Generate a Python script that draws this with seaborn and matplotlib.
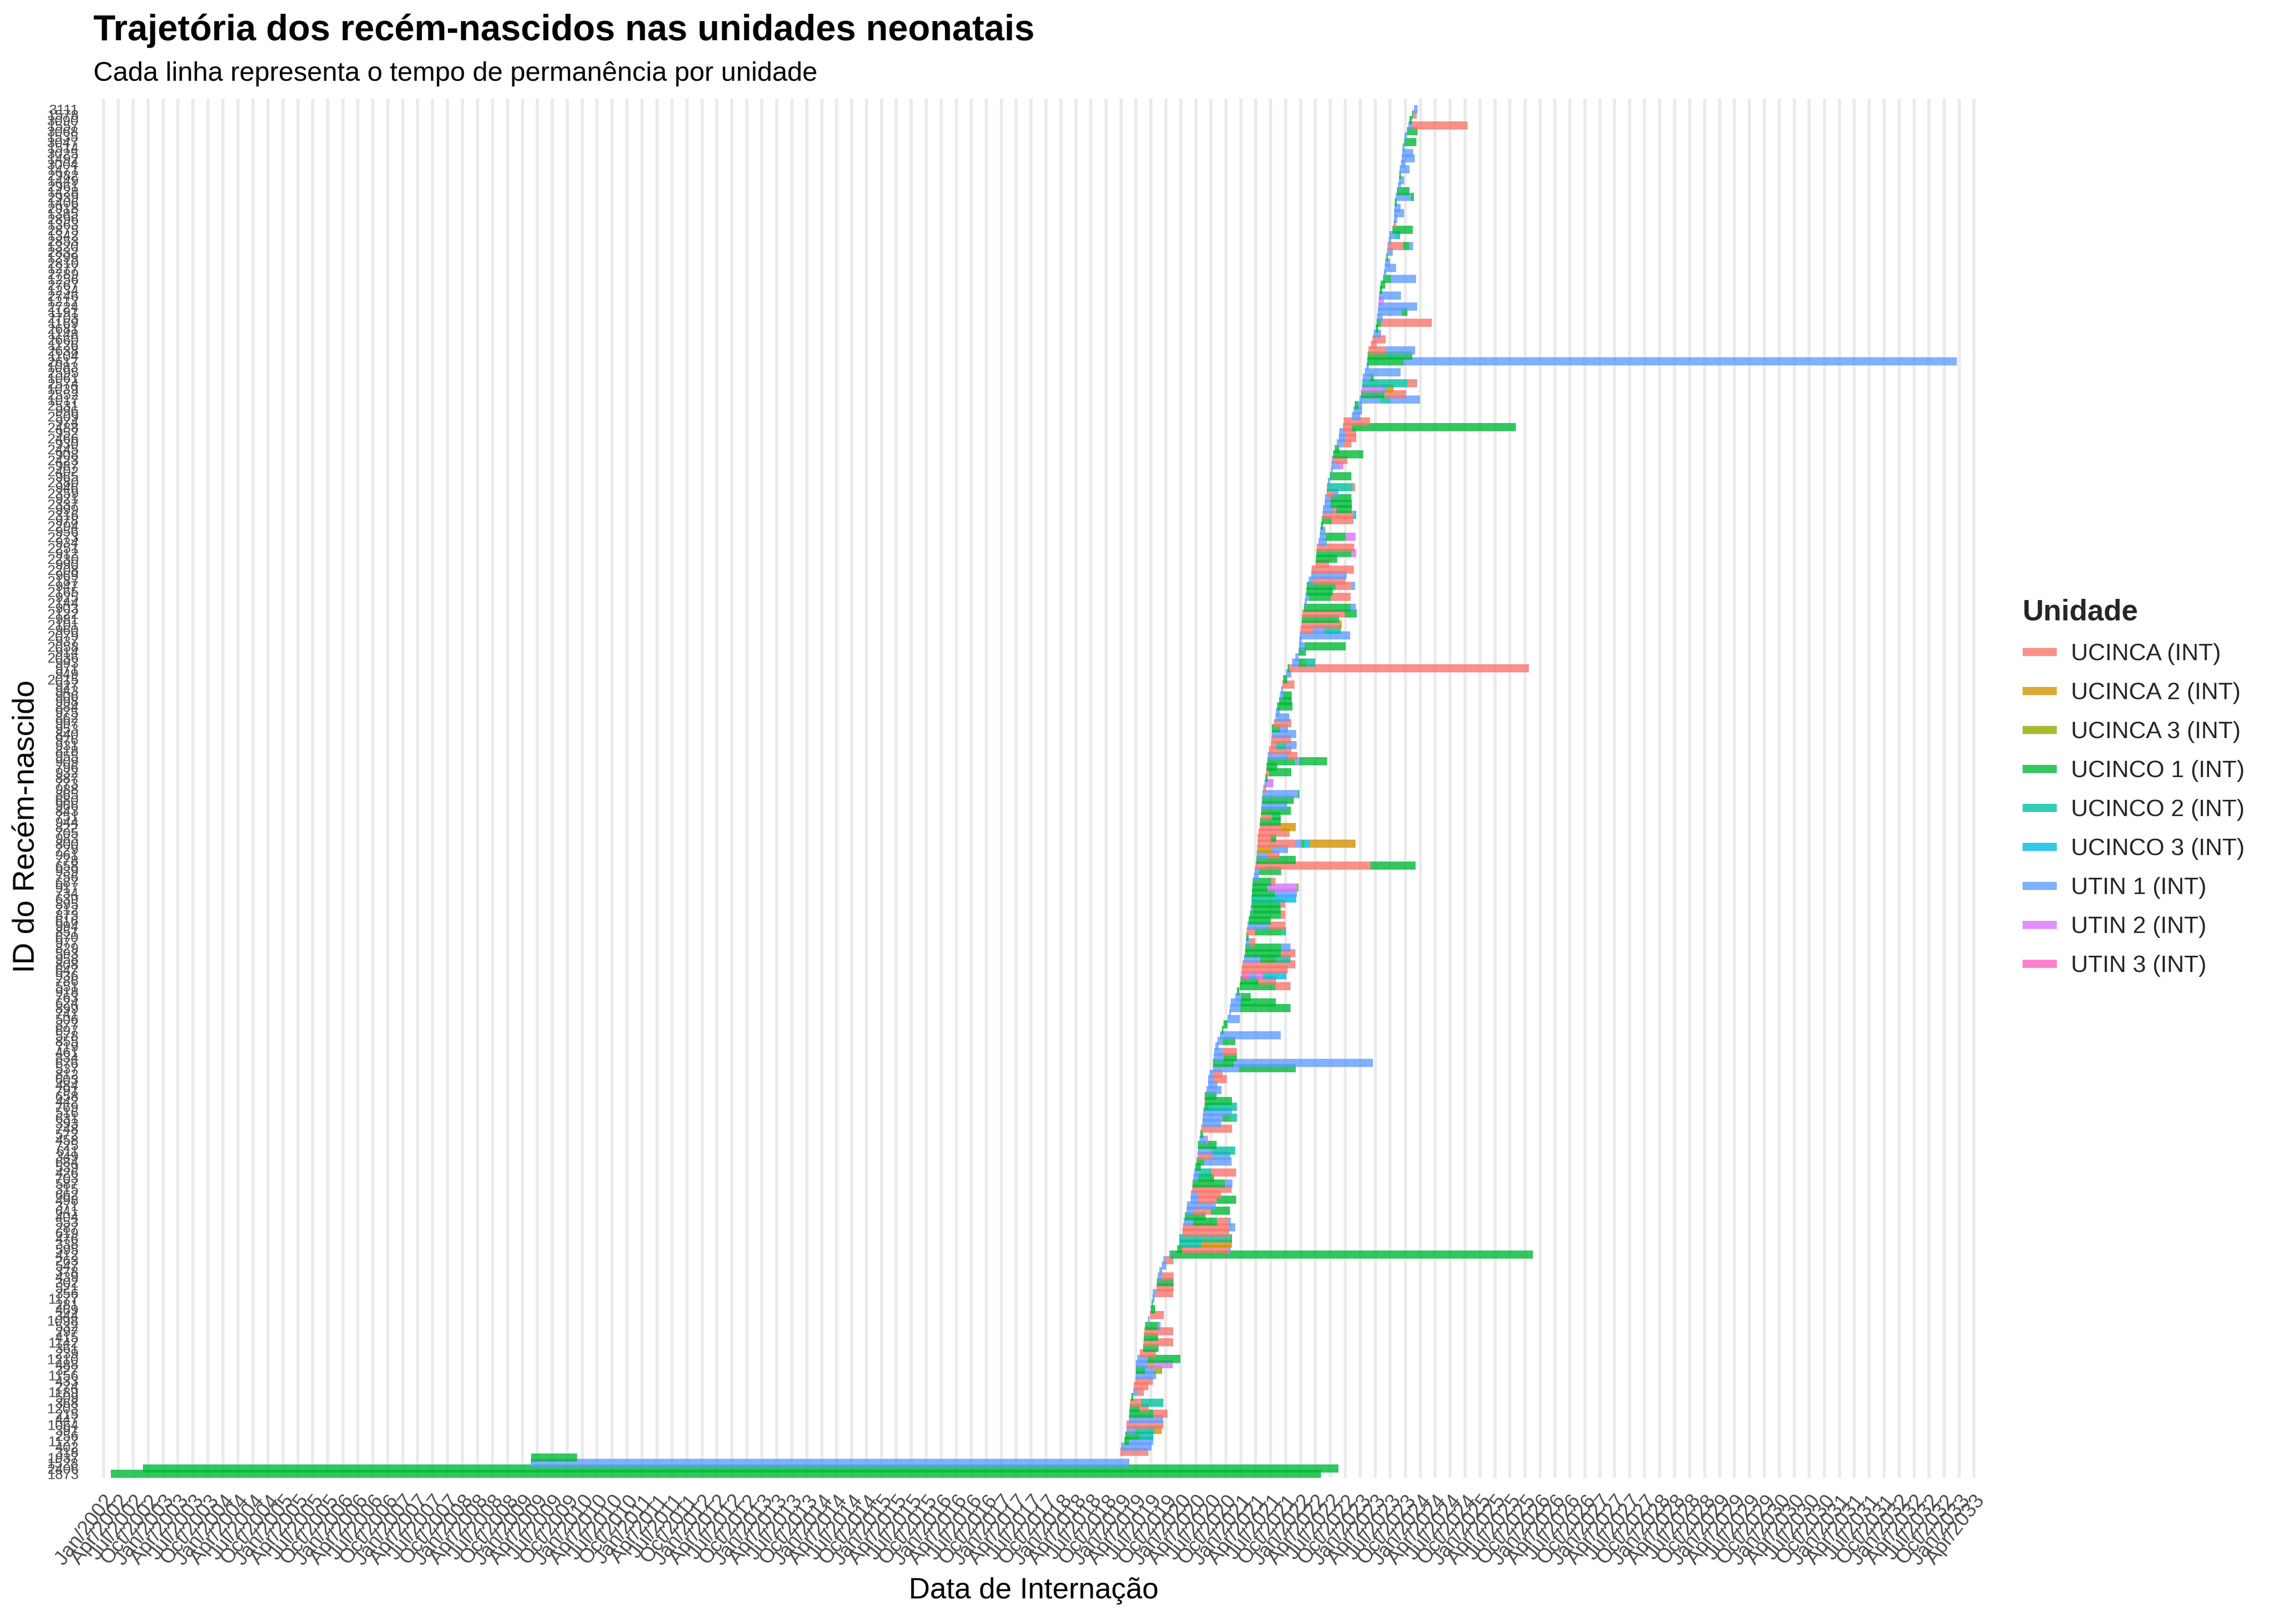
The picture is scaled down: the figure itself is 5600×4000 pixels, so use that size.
import numpy as np
import pandas as pd
import matplotlib
matplotlib.use("Agg")
import matplotlib.pyplot as plt
import matplotlib.dates as mdates
from matplotlib.lines import Line2D
import seaborn as sns

# ---------------- data ----------------
unit_names = ["UCINCA (INT)", "UCINCA 2 (INT)", "UCINCA 3 (INT)", "UCINCO 1 (INT)",
              "UCINCO 2 (INT)", "UCINCO 3 (INT)", "UTIN 1 (INT)", "UTIN 2 (INT)", "UTIN 3 (INT)"]
unit_codes = ["A", "A2", "A3", "O1", "O2", "O3", "T1", "T2", "T3"]
unit_colors = ["#F8766D", "#D39200", "#93AA00", "#00BA38", "#00C19F",
               "#00B9E3", "#619CFF", "#DB72FB", "#FF61C3"]

patient_ids = [
    1873, 2406, 1528, 1937, 318, 402, 1127, 256, 391, 1064,
    447, 215, 1203, 368, 509, 1189, 274, 433, 1156, 327,
    488, 1210, 239, 361, 1142, 415, 297, 532, 1098, 344,
    469, 281, 1177, 356, 521, 302, 439, 378, 547, 263,
    412, 595, 338, 476, 619, 287, 553, 404, 641, 371,
    498, 662, 315, 587, 703, 426, 539, 684, 349, 611,
    725, 458, 572, 748, 393, 631, 516, 769, 442, 658,
    791, 484, 603, 812, 537, 676, 834, 461, 719, 855,
    578, 697, 877, 506, 741, 899, 624, 763, 918, 551,
    786, 936, 647, 808, 958, 593, 829, 977, 670, 851,
    994, 616, 873, 712, 895, 639, 734, 917, 687, 756,
    939, 658, 778, 961, 729, 800, 983, 705, 822, 944,
    751, 843, 966, 680, 865, 988, 773, 887, 932, 796,
    909, 955, 818, 931, 976, 840, 953, 997, 862, 975,
    884, 998, 906, 943, 927, 2015, 949, 971, 993, 2036,
    914, 2058, 937, 2079, 960, 2101, 981, 2122, 903, 2144,
    925, 2165, 947, 2187, 969, 2208, 990, 2230, 912, 2251,
    934, 2273, 956, 2294, 978, 2316, 999, 2337, 921, 2359,
    946, 2380, 965, 2402, 987, 2423, 908, 2445, 930, 2466,
    952, 2488, 974, 2509, 996, 2531, 1017, 2552, 1039, 2574,
    1061, 2595, 1083, 2617, 1104, 2638, 1126, 2660, 1148, 2681,
    1169, 2703, 1191, 2724, 1212, 2746, 1234, 2767, 1256, 2789,
    1277, 2810, 1299, 2832, 1320, 2853, 1342, 2875, 1363, 2896,
    1385, 2918, 1406, 2939, 1428, 2961, 1449, 2982, 1471, 3004,
    1492, 3025, 1514, 3047, 1535, 3068, 1557, 3090, 1578, 3111,
]

admission_dates = [
    "2002-02-15", "2002-08-30", "2009-02-20", "2009-02-22", "2018-12-28", "2019-01-02", "2019-01-22", "2019-01-27", "2019-02-03", "2019-02-04",
    "2019-02-18", "2019-02-21", "2019-02-23", "2019-02-26", "2019-03-05", "2019-03-17", "2019-03-20", "2019-03-30", "2019-03-31", "2019-04-01",
    "2019-04-02", "2019-04-11", "2019-04-26", "2019-05-16", "2019-05-17", "2019-05-21", "2019-05-23", "2019-05-28", "2019-06-14", "2019-06-27",
    "2019-07-02", "2019-07-07", "2019-07-12", "2019-07-14", "2019-08-06", "2019-08-08", "2019-08-13", "2019-08-23", "2019-09-07", "2019-09-17",
    "2019-10-21", "2019-12-10", "2019-12-22", "2019-12-23", "2020-01-11", "2020-01-14", "2020-01-19", "2020-01-26", "2020-02-05", "2020-02-06",
    "2020-03-01", "2020-03-03", "2020-03-10", "2020-03-13", "2020-03-18", "2020-03-23", "2020-03-30", "2020-04-07", "2020-04-12", "2020-04-13",
    "2020-04-15", "2020-04-23", "2020-04-28", "2020-05-03", "2020-05-10", "2020-05-13", "2020-05-15", "2020-05-23", "2020-05-24", "2020-05-25",
    "2020-06-04", "2020-06-14", "2020-06-16", "2020-06-24", "2020-07-14", "2020-07-15", "2020-07-19", "2020-07-21", "2020-07-29", "2020-08-12",
    "2020-08-25", "2020-09-06", "2020-09-18", "2020-10-13", "2020-10-21", "2020-10-26", "2020-10-31", "2020-11-27", "2020-12-08", "2020-12-26",
    "2020-12-31", "2021-01-05", "2021-01-07", "2021-01-12", "2021-01-19", "2021-01-27", "2021-01-28", "2021-02-01", "2021-02-03", "2021-02-06",
    "2021-02-11", "2021-02-18", "2021-02-26", "2021-03-02", "2021-03-07", "2021-03-08", "2021-03-10", "2021-03-12", "2021-03-15", "2021-03-22",
    "2021-03-27", "2021-04-01", "2021-04-06", "2021-04-09", "2021-04-11", "2021-04-12", "2021-04-14", "2021-04-19", "2021-04-26", "2021-04-29",
    "2021-05-04", "2021-05-06", "2021-05-09", "2021-05-11", "2021-05-14", "2021-05-19", "2021-05-26", "2021-05-31", "2021-06-05", "2021-06-07",
    "2021-06-12", "2021-06-13", "2021-06-22", "2021-07-04", "2021-07-07", "2021-07-08", "2021-07-09", "2021-07-22", "2021-08-01", "2021-08-03",
    "2021-08-10", "2021-08-23", "2021-08-28", "2021-09-04", "2021-09-12", "2021-09-17", "2021-10-04", "2021-10-14", "2021-11-10", "2021-11-30",
    "2021-12-20", "2021-12-21", "2021-12-25", "2021-12-27", "2022-01-01", "2022-01-06", "2022-01-09", "2022-01-11", "2022-01-21", "2022-01-26",
    "2022-01-31", "2022-02-05", "2022-02-08", "2022-02-20", "2022-03-07", "2022-03-09", "2022-04-03", "2022-04-06", "2022-04-08", "2022-04-11",
    "2022-04-21", "2022-04-28", "2022-04-29", "2022-05-05", "2022-05-10", "2022-05-15", "2022-05-16", "2022-05-28", "2022-05-30", "2022-06-09",
    "2022-06-12", "2022-06-17", "2022-06-29", "2022-07-06", "2022-07-07", "2022-07-11", "2022-07-19", "2022-07-29", "2022-08-10", "2022-08-22",
    "2022-08-25", "2022-09-16", "2022-09-21", "2022-11-10", "2022-11-19", "2022-11-27", "2022-12-27", "2023-01-06", "2023-01-11", "2023-01-13",
    "2023-01-16", "2023-01-28", "2023-02-05", "2023-02-12", "2023-02-14", "2023-02-19", "2023-03-06", "2023-03-16", "2023-03-23", "2023-04-05",
    "2023-04-10", "2023-04-12", "2023-04-17", "2023-04-20", "2023-04-22", "2023-04-25", "2023-04-30", "2023-05-05", "2023-05-19", "2023-05-24",
    "2023-05-29", "2023-06-01", "2023-06-08", "2023-06-13", "2023-06-16", "2023-06-23", "2023-06-26", "2023-07-15", "2023-07-23", "2023-07-24",
    "2023-07-25", "2023-07-28", "2023-07-30", "2023-08-04", "2023-08-12", "2023-08-19", "2023-08-24", "2023-08-27", "2023-08-29", "2023-09-06",
    "2023-09-10", "2023-09-11", "2023-09-15", "2023-09-25", "2023-09-28", "2023-10-12", "2023-10-20", "2023-10-27", "2023-11-11", "2023-11-24",
]

# successive unit stays per newborn: "unit:days"
unit_stays = [
    "O1:7384", "O1:7295", "T1:3652", "O1:281", "A:171", "T1:186", "O1:27 T1:149", "O1:82 O2:89", "T1:55 O2:116 A2:45", "A:225",
    "T1:208", "O1:146 A:87", "O1:59 A:57", "A:67 O2:136", "O1:12", "T1:27 A:37", "A:89", "A:107", "T1:124", "O1:57 T1:57 A3:47",
    "T1:72 A:37 T2:116", "T1:62 O1:201", "A:99", "O1:94", "A:183", "O1:87", "A:176", "O1:77 T1:17", "T1:10", "A:84",
    "O1:27", "O1:7", "T1:12", "T1:20 A:104", "A:104", "O1:102", "T1:20 A:77", "T1:17", "T1:27", "T1:15 A:47",
    "T1:10 O1:2210", "O1:30 A:285 T1:12", "O2:134 A2:188", "O2:312 O1:10", "A:285", "A:278 T1:40", "T1:57 O1:146 A:69 T1:15", "O1:126", "T1:42 A:107 O1:116", "T1:176",
    "T1:45 A:112 O1:121", "T1:45 A:139", "A:240", "O1:196 T1:47", "T1:27 O1:99", "T1:30 O2:74 A:151", "O1:32", "O1:47 T1:166", "A:92 T1:107", "T1:92 O2:136",
    "O1:112", "T1:37 T2:17", "O1:17", "A:188", "T1:114", "T1:121 O1:50 O2:37", "T1:178", "O1:27 O2:171", "A:7 O1:161", "O1:74",
    "T1:92", "T1:59", "T1:37 A:77", "T1:20 A:59", "T1:161 O1:344", "O1:126 T1:850", "T1:59 O1:84", "T1:52 A:89", "T1:20", "T1:30 O1:77",
    "T1:372", "O1:12", "O1:25", "T1:72", "T1:10", "T1:64 O1:307", "T1:59 O1:216", "T1:37 O1:57", "O1:15", "O1:218 A:92",
    "O1:107 A:109", "T3:45 T1:40 T2:45 O3:144", "A:280", "A:322", "T1:102 O1:99 O2:84", "O1:218 A:89", "O1:218 T1:59", "T1:27 A:30", "O1:15", "A:52 O1:161 O2:27",
    "T1:131 A:99", "O1:134", "O1:188 A:27", "T1:12 O1:171", "O1:176 A:30", "O2:146 O3:126", "O1:141 T1:134", "O1:92 T2:171 A:12 O2:7", "O1:112 A:27", "T1:30",
    "T1:27 O1:134", "A:701 O1:275", "O1:240", "T1:62 A:77", "A2:89 T1:99", "A:228 T1:40 O1:17 O3:35 A2:278", "A:82 O1:30", "A:191", "A:129 A2:92", "O1:126",
    "A:69 O1:52", "O1:181", "T1:156", "O1:193", "T1:218 O1:7", "A:17", "T1:12 T2:42", "O1:15", "A:17 O1:136", "O1:64",
    "O1:168 T1:27 O1:168", "T1:126 A:57", "A:136", "A:32 O2:57 T1:67", "A:119", "T1:149", "O1:50 T1:50", "A:107", "T1:84", "T1:25",
    "O1:94", "O1:77", "T1:17 O1:55", "T1:12", "A:74", "O1:25", "T1:32", "O1:10 A:1462", "T1:40 O1:45 O2:57", "T1:20",
    "O1:45", "T1:35 O1:250", "T1:12", "T1:307", "A:74 T1:72 O2:99", "A:228 A2:17", "O1:228", "A:260 O1:72", "O1:285 T1:32", "T1:12",
    "T1:20 O1:134 A:121", "O1:161", "O1:176 A:99 T1:20", "T1:25 A:198", "T1:216", "A:258", "A:82", "O1:129", "O1:213 T2:30", "A:228",
    "T1:50", "T1:37 O1:119 T2:62", "T1:32", "O1:12", "O1:59 A:134", "A:188 O3:17", "T1:64 A:20 O1:92", "T1:35 O1:129", "T1:35 O1:126", "A:45 T1:25",
    "O2:154 A:17", "T1:10", "O1:131", "T1:10", "T1:50 T2:22", "T1:5 A:89", "O1:183", "O1:25", "T1:37 A:52", "T1:40 A:67",
    "T1:35 A:69", "A:55 O1:1001", "A:161", "T1:50", "T1:52", "O1:22 T1:22", "T1:126 O2:59 T1:183", "O1:139 A:134", "T2:126 T1:22 A2:45", "O2:275 A:55 T1:5",
    "T1:45 O1:20", "T1:218", "T1:15", "O1:221 T1:3375", "O1:273", "A:104 T1:181", "A:35", "A:79", "T1:45", "O1:15",
    "O1:27 A:310", "T1:35", "T1:146 O1:35", "T1:238", "T2:32", "T1:134", "O1:15", "O1:25", "O1:47 T1:154", "T1:15",
    "T1:69", "T1:30", "O1:10", "T1:35", "A:94 O1:40 T1:20", "T1:15", "T1:37 O2:30", "O1:124", "A:15", "T1:20",
    "T1:62", "T1:37", "O1:12", "T1:92 O1:20", "O1:77", "T1:17", "T1:32", "O1:10", "T1:59", "T1:27",
    "T1:79", "T1:67", "T1:12", "O1:74", "T1:15", "O1:64", "T1:25 A:337", "O1:15", "O1:7 A:22", "T1:22",
]

x_breaks = pd.date_range("2002-01-01", "2033-04-01", freq="QS-JAN")
x_limits = (pd.Timestamp("2001-09-02"), pd.Timestamp("2033-05-28"))

# ---------------- build segments ----------------
code_to_name = dict(zip(unit_codes, unit_names))
records = []
for r, (pid, adm, stay) in enumerate(zip(patient_ids, admission_dates, unit_stays)):
    t = pd.Timestamp(adm)
    for k, part in enumerate(stay.split()):
        code, days = part.split(":")
        t_end = t + pd.Timedelta(days=int(days))
        seg = f"{r}-{k}"
        name = code_to_name[code]
        records.append(dict(row=r, seg=seg, unit=name, date=t))
        records.append(dict(row=r, seg=seg, unit=name, date=t_end))
        t = t_end
df = pd.DataFrame(records)
N = len(patient_ids)

# ---------------- style ----------------
sns.set_theme(style="white")
plt.rcParams["font.family"] = ["Liberation Sans", "DejaVu Sans"]
plt.rcParams["lines.solid_capstyle"] = "butt"

fig = plt.figure(figsize=(14, 10), dpi=400)
ax = fig.add_axes([0.03679, 0.09, 0.83536, 0.84925])

LW = 3.6
palette = dict(zip(unit_names, unit_colors))
sns.lineplot(data=df, x="date", y="row", hue="unit", units="seg", estimator=None,
             sort=False, hue_order=unit_names, palette=palette, linewidth=LW,
             alpha=0.8, legend=False, ax=ax, solid_capstyle="butt")

# draw in row order like the original (later rows on top)
for ln in ax.lines:
    yd = np.asarray(ln.get_ydata(), dtype=float)
    if len(yd):
        ln.set_zorder(2 + yd[0] / 1000.0)

ax.set_xlim(*x_limits)
ax.set_ylim(-0.74, N + 0.9)
ax.set_xticks(x_breaks)
ax.xaxis.set_major_formatter(mdates.DateFormatter("%b/%Y"))
ax.set_yticks(range(N))
ax.set_yticklabels([str(i) for i in patient_ids])

ax.grid(axis="x", color="#EBEBEB", linewidth=1.35)
ax.grid(axis="y", visible=False)
ax.set_axisbelow(True)
for s in ax.spines.values():
    s.set_visible(False)

ax.tick_params(axis="x", length=0, pad=6, labelsize=9, labelcolor="#4D4D4D")
ax.tick_params(axis="y", length=0, pad=2.2, labelsize=6.3, labelcolor="#4D4D4D")
for lab in ax.get_xticklabels():
    lab.set_rotation(52)
    lab.set_ha("right")
    lab.set_va("top")
    lab.set_rotation_mode("anchor")

ax.set_xlabel("")
ax.set_ylabel("")

fig.text(0.4545, 0.0205, "Data de Internação", ha="center", va="center", fontsize=13, color="black")
fig.text(0.0115, 0.491, "ID do Recém-nascido", ha="center", va="center", rotation=90,
         fontsize=13.5, color="black")
fig.text(0.041, 0.981, "Trajetória dos recém-nascidos nas unidades neonatais",
         ha="left", va="center", fontsize=16, fontweight="bold", color="black")
fig.text(0.041, 0.9545, "Cada linha representa o tempo de permanência por unidade",
         ha="left", va="center", fontsize=12, color="black")

handles = [Line2D([0], [0], color=c, lw=LW, alpha=0.8, solid_capstyle="butt") for c in unit_colors]
leg = fig.legend(handles, unit_names, title="Unidade", loc="center left",
                 bbox_to_anchor=(0.880, 0.515), frameon=False, fontsize=10.5,
                 title_fontproperties={"weight": "bold", "size": 13},
                 handlelength=1.45, handletextpad=0.6, labelspacing=0.72)
leg._legend_box.align = "left"

fig.savefig("out.png", dpi=400)
